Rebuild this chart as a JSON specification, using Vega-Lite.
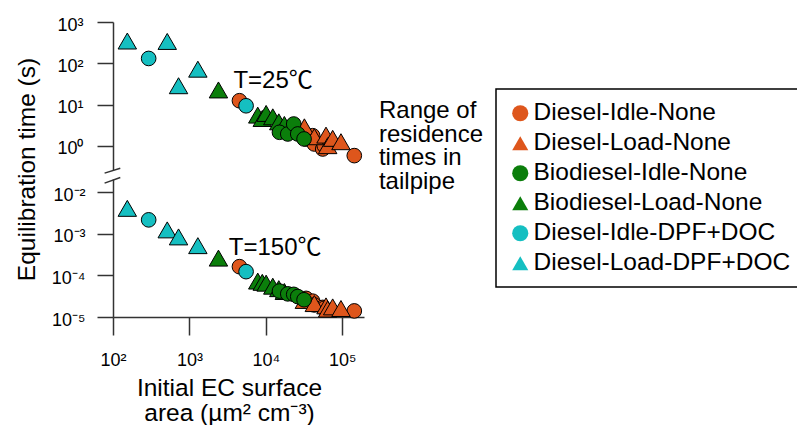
{
  "$schema": "https://vega.github.io/schema/vega-lite/v6.json",
  "padding": {"left": 14, "top": 16, "right": 0, "bottom": 0},
  "bounds": "flush",
  "spacing": 9,
  "config": {
    "font": "Liberation Sans",
    "view": {"stroke": null},
    "axis": {
      "domainColor": "#333", "domainWidth": 1.5, "tickColor": "#333", "tickWidth": 1.5,
      "labelFont": "Liberation Sans", "labelFontSize": 18, "labelColor": "#000", "labelFlush": false,
      "titleFont": "Liberation Sans", "titleFontSize": 24.5, "titleFontWeight": "normal", "titleColor": "#000",
      "grid": false
    },
    "legend": {
      "orient": "none", "legendX": 383, "legendY": 67,
      "labelFont": "Liberation Sans", "labelFontSize": 24.5, "labelColor": "#000", "labelLimit": 400,
      "symbolSize": 260, "symbolStrokeWidth": 0, "rowPadding": 5, "padding": 12, "labelOffset": 1,
      "strokeColor": "#000", "strokeWidth": 1.5, "fillColor": "#fff"
    }
  },
  "datasets": {
    "points": [
      {"g": "Diesel-Idle-None", "T": 25, "x": 4520, "y": 12.4},
      {"g": "Diesel-Idle-None", "T": 25, "x": 33700, "y": 1.47},
      {"g": "Diesel-Idle-None", "T": 25, "x": 41100, "y": 1.76},
      {"g": "Diesel-Idle-None", "T": 25, "x": 43200, "y": 1.11},
      {"g": "Diesel-Idle-None", "T": 25, "x": 55600, "y": 0.84},
      {"g": "Diesel-Idle-None", "T": 25, "x": 58300, "y": 1.01},
      {"g": "Diesel-Idle-None", "T": 25, "x": 144000, "y": 0.58},
      {"g": "Diesel-Load-None", "T": 25, "x": 32000, "y": 2.89},
      {"g": "Diesel-Load-None", "T": 25, "x": 43200, "y": 1.66},
      {"g": "Diesel-Load-None", "T": 25, "x": 61400, "y": 1.82},
      {"g": "Diesel-Load-None", "T": 25, "x": 64600, "y": 1.01},
      {"g": "Diesel-Load-None", "T": 25, "x": 75100, "y": 1.52},
      {"g": "Diesel-Load-None", "T": 25, "x": 96400, "y": 1.26},
      {"g": "Biodiesel-Load-None", "T": 25, "x": 2400, "y": 22.6},
      {"g": "Biodiesel-Load-None", "T": 25, "x": 7850, "y": 5.55},
      {"g": "Biodiesel-Load-None", "T": 25, "x": 9000, "y": 4.6},
      {"g": "Biodiesel-Load-None", "T": 25, "x": 10100, "y": 6.1},
      {"g": "Biodiesel-Load-None", "T": 25, "x": 12350, "y": 5.05},
      {"g": "Biodiesel-Load-None", "T": 25, "x": 14800, "y": 3.82},
      {"g": "Biodiesel-Load-None", "T": 25, "x": 17500, "y": 3.3},
      {"g": "Biodiesel-Idle-None", "T": 25, "x": 15100, "y": 2.13},
      {"g": "Biodiesel-Idle-None", "T": 25, "x": 19400, "y": 1.94},
      {"g": "Biodiesel-Idle-None", "T": 25, "x": 23200, "y": 3.38},
      {"g": "Biodiesel-Idle-None", "T": 25, "x": 26200, "y": 1.94},
      {"g": "Biodiesel-Idle-None", "T": 25, "x": 31700, "y": 1.47},
      {"g": "Diesel-Idle-DPF+DOC", "T": 25, "x": 293, "y": 131},
      {"g": "Diesel-Idle-DPF+DOC", "T": 25, "x": 5520, "y": 9.35},
      {"g": "Diesel-Load-DPF+DOC", "T": 25, "x": 154, "y": 346},
      {"g": "Diesel-Load-DPF+DOC", "T": 25, "x": 513, "y": 338},
      {"g": "Diesel-Load-DPF+DOC", "T": 25, "x": 721, "y": 28.6},
      {"g": "Diesel-Load-DPF+DOC", "T": 25, "x": 1291, "y": 72},
      {"g": "Diesel-Idle-None", "T": 150, "x": 4520, "y": 0.000162},
      {"g": "Diesel-Idle-None", "T": 150, "x": 33700, "y": 0.000028},
      {"g": "Diesel-Idle-None", "T": 150, "x": 41100, "y": 0.000024},
      {"g": "Diesel-Idle-None", "T": 150, "x": 43200, "y": 0.0000195},
      {"g": "Diesel-Idle-None", "T": 150, "x": 55600, "y": 0.000017},
      {"g": "Diesel-Idle-None", "T": 150, "x": 58300, "y": 0.0000162},
      {"g": "Diesel-Idle-None", "T": 150, "x": 144000, "y": 0.000014},
      {"g": "Diesel-Load-None", "T": 150, "x": 32000, "y": 0.000025},
      {"g": "Diesel-Load-None", "T": 150, "x": 43200, "y": 0.000021},
      {"g": "Diesel-Load-None", "T": 150, "x": 61400, "y": 0.0000185},
      {"g": "Diesel-Load-None", "T": 150, "x": 64600, "y": 0.0000155},
      {"g": "Diesel-Load-None", "T": 150, "x": 75100, "y": 0.0000175},
      {"g": "Diesel-Load-None", "T": 150, "x": 96400, "y": 0.000016},
      {"g": "Biodiesel-Load-None", "T": 150, "x": 2400, "y": 0.00026},
      {"g": "Biodiesel-Load-None", "T": 150, "x": 7850, "y": 0.000073},
      {"g": "Biodiesel-Load-None", "T": 150, "x": 9000, "y": 0.000068},
      {"g": "Biodiesel-Load-None", "T": 150, "x": 10100, "y": 0.000065},
      {"g": "Biodiesel-Load-None", "T": 150, "x": 12350, "y": 0.000055},
      {"g": "Biodiesel-Load-None", "T": 150, "x": 14800, "y": 0.000048},
      {"g": "Biodiesel-Load-None", "T": 150, "x": 17500, "y": 0.000041},
      {"g": "Biodiesel-Idle-None", "T": 150, "x": 15100, "y": 0.000042},
      {"g": "Biodiesel-Idle-None", "T": 150, "x": 19400, "y": 0.000036},
      {"g": "Biodiesel-Idle-None", "T": 150, "x": 23200, "y": 0.000035},
      {"g": "Biodiesel-Idle-None", "T": 150, "x": 26200, "y": 0.000031},
      {"g": "Biodiesel-Idle-None", "T": 150, "x": 31700, "y": 0.000026},
      {"g": "Diesel-Idle-DPF+DOC", "T": 150, "x": 293, "y": 0.00216},
      {"g": "Diesel-Idle-DPF+DOC", "T": 150, "x": 5520, "y": 0.000123},
      {"g": "Diesel-Load-DPF+DOC", "T": 150, "x": 154, "y": 0.00408},
      {"g": "Diesel-Load-DPF+DOC", "T": 150, "x": 513, "y": 0.00124},
      {"g": "Diesel-Load-DPF+DOC", "T": 150, "x": 721, "y": 0.00084},
      {"g": "Diesel-Load-DPF+DOC", "T": 150, "x": 1291, "y": 0.000518}
    ],
    "ann": [
      {"T": 25, "x": 3770, "y": 37.6, "label": "T=25℃"},
      {"T": 25, "x": 302900, "y": 6.97, "label": "Range of\nresidence\ntimes in\ntailpipe"},
      {"T": 150, "x": 3280, "y": 0.00045, "label": "T=150℃"}
    ],
    "brk": [
      {"T": 25, "x": 77.6, "x2": 124.6, "y": 0.218, "y2": 0.288},
      {"T": 150, "x": 77.6, "x2": 124.6, "y": 0.01644, "y2": 0.02244}
    ]
  },
  "vconcat": [
    {
      "width": 251,
      "height": 148,
      "encoding": {
        "x": {"field": "x", "type": "quantitative", "scale": {"type": "log", "domain": [100, 193000], "nice": false}, "axis": null},
        "y": {"field": "y", "type": "quantitative", "scale": {"type": "log", "domain": [0.26, 1000], "nice": false},
          "axis": {"values": [1, 10, 100, 1000], "labelExpr": "datum.value >= 999 ? '10³' : datum.value >= 99 ? '10²' : datum.value >= 9 ? '10¹' : '10⁰'",
            "tickSize": 16, "labelPadding": 14, "labelOffset": 3,
            "title": "Equilibration time (s)", "titleAngle": 270, "titleX": -79, "titleY": 147, "titleAlign": "center", "titleBaseline": "alphabetic"}}
      },
      "layer": [
        {
          "data": {"name": "points"},
          "transform": [{"filter": "datum.T == 25"}],
          "mark": {"type": "point", "filled": true, "opacity": 1, "stroke": "#000", "strokeWidth": 1},
          "encoding": {
            "color": {"field": "g", "type": "nominal", "sort": null, "legend": {"title": null},
              "scale": {"domain": ["Diesel-Idle-None", "Diesel-Load-None", "Biodiesel-Idle-None", "Biodiesel-Load-None", "Diesel-Idle-DPF+DOC", "Diesel-Load-DPF+DOC"],
                "range": ["#DE561C", "#DE561C", "#0B7E0B", "#0B7E0B", "#15BFC1", "#15BFC1"]}},
            "shape": {"field": "g", "type": "nominal", "sort": null, "legend": {"title": null},
              "scale": {"domain": ["Diesel-Idle-None", "Diesel-Load-None", "Biodiesel-Idle-None", "Biodiesel-Load-None", "Diesel-Idle-DPF+DOC", "Diesel-Load-DPF+DOC"],
                "range": ["circle", "triangle-up", "circle", "triangle-up", "circle", "triangle-up"]}},
            "size": {"condition": {"test": "indexof(datum.g, 'Load') >= 0", "value": 340}, "value": 215}
          }
        },
        {
          "data": {"name": "brk"},
          "transform": [{"filter": "datum.T == 25"}],
          "mark": {"type": "rule", "color": "#333", "strokeWidth": 1.5},
          "encoding": {"x2": {"field": "x2"}, "y2": {"field": "y2"}}
        },
        {
          "data": {"name": "ann"},
          "transform": [{"filter": "datum.T == 25"}],
          "mark": {"type": "text", "align": "left", "baseline": "middle", "fontSize": 24, "lineBreak": "\n", "lineHeight": 23.7, "font": "Liberation Sans, Noto Sans CJK JP", "color": "#000"},
          "encoding": {"text": {"field": "label"}}
        }
      ]
    },
    {
      "width": 251,
      "height": 138,
      "encoding": {
        "x": {"field": "x", "type": "quantitative", "scale": {"type": "log", "domain": [100, 193000], "nice": false},
          "axis": {"values": [100, 1000, 10000, 100000], "labelExpr": "datum.value >= 99999 ? '10⁵' : datum.value >= 9999 ? '10⁴' : datum.value >= 999 ? '10³' : '10²'",
            "tickSize": 18, "labelPadding": 16,
            "title": ["Initial EC surface", "area (µm² cm⁻³)"], "titleX": 116, "titleY": 59, "titleAlign": "center", "titleBaseline": "top", "titleLineHeight": 25}},
        "y": {"field": "y", "type": "quantitative", "scale": {"type": "log", "domain": [0.00001, 0.0207], "nice": false},
          "axis": {"values": [0.00001, 0.0001, 0.001, 0.01], "labelExpr": "datum.value >= 0.009 ? '10⁻²' : datum.value >= 0.0009 ? '10⁻³' : datum.value >= 0.00009 ? '10⁻⁴' : '10⁻⁵'",
            "tickSize": 16, "labelPadding": 12, "labelOffset": 3, "title": null}}
      },
      "layer": [
        {
          "data": {"name": "points"},
          "transform": [{"filter": "datum.T == 150"}],
          "mark": {"type": "point", "filled": true, "opacity": 1, "stroke": "#000", "strokeWidth": 1},
          "encoding": {
            "color": {"field": "g", "type": "nominal", "sort": null, "legend": {"title": null},
              "scale": {"domain": ["Diesel-Idle-None", "Diesel-Load-None", "Biodiesel-Idle-None", "Biodiesel-Load-None", "Diesel-Idle-DPF+DOC", "Diesel-Load-DPF+DOC"],
                "range": ["#DE561C", "#DE561C", "#0B7E0B", "#0B7E0B", "#15BFC1", "#15BFC1"]}},
            "shape": {"field": "g", "type": "nominal", "sort": null, "legend": {"title": null},
              "scale": {"domain": ["Diesel-Idle-None", "Diesel-Load-None", "Biodiesel-Idle-None", "Biodiesel-Load-None", "Diesel-Idle-DPF+DOC", "Diesel-Load-DPF+DOC"],
                "range": ["circle", "triangle-up", "circle", "triangle-up", "circle", "triangle-up"]}},
            "size": {"condition": {"test": "indexof(datum.g, 'Load') >= 0", "value": 340}, "value": 215}
          }
        },
        {
          "data": {"name": "brk"},
          "transform": [{"filter": "datum.T == 150"}],
          "mark": {"type": "rule", "color": "#333", "strokeWidth": 1.5},
          "encoding": {"x2": {"field": "x2"}, "y2": {"field": "y2"}}
        },
        {
          "data": {"name": "ann"},
          "transform": [{"filter": "datum.T == 150"}],
          "mark": {"type": "text", "align": "left", "baseline": "middle", "fontSize": 24, "font": "Liberation Sans, Noto Sans CJK JP", "color": "#000"},
          "encoding": {"text": {"field": "label"}}
        }
      ]
    }
  ],
  "resolve": {"scale": {"color": "shared", "shape": "shared"}}
}
